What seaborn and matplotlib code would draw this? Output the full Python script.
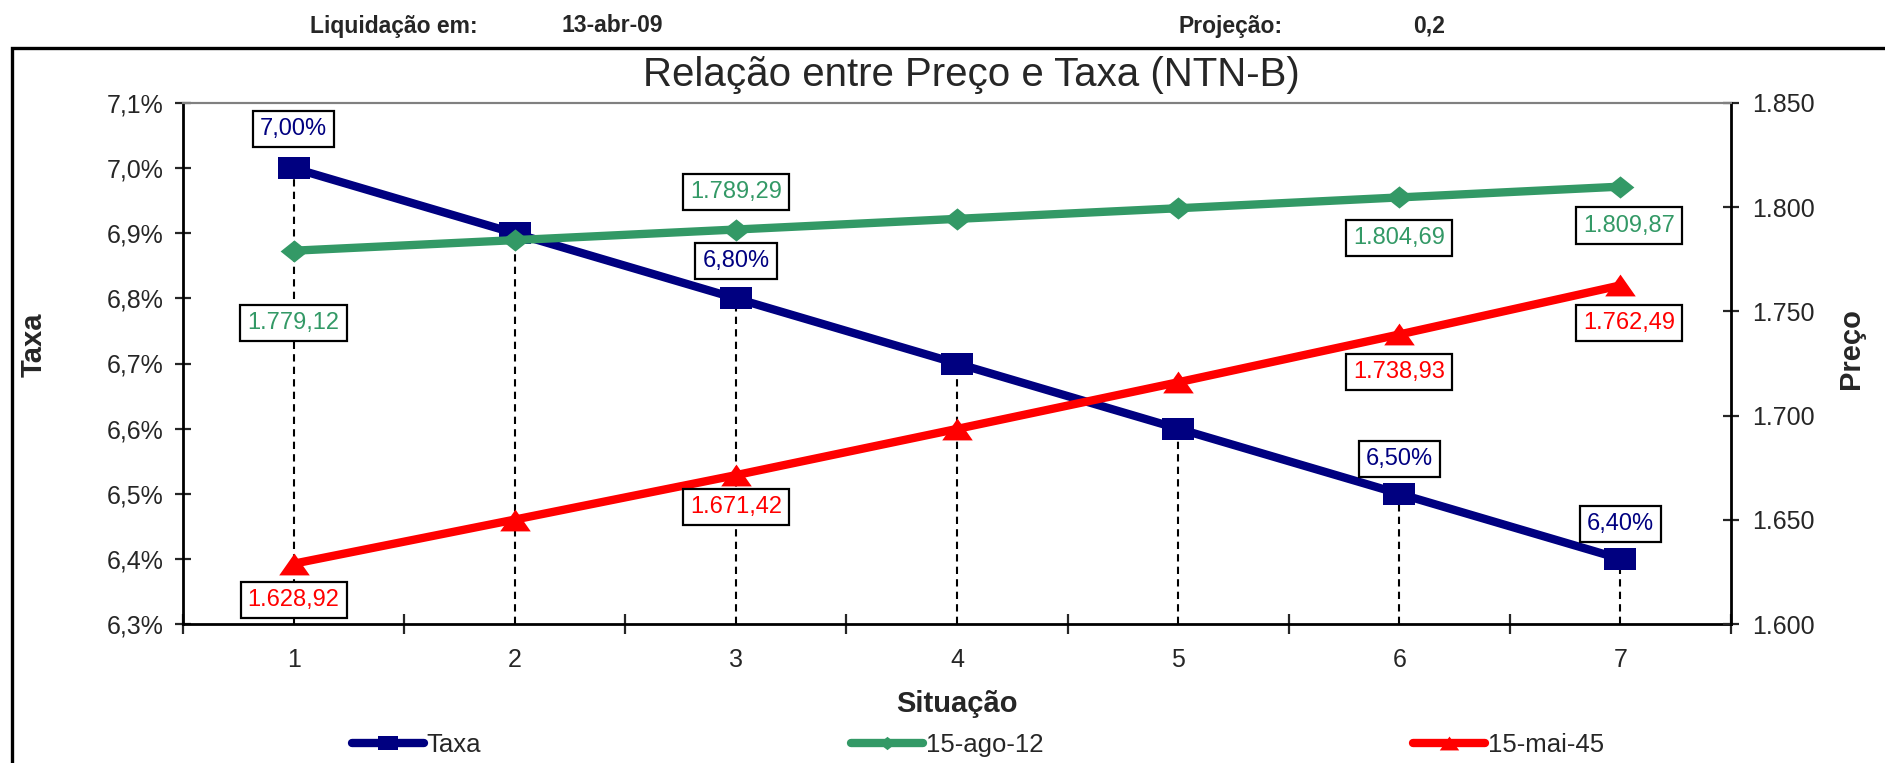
import matplotlib
matplotlib.use("Agg")
import matplotlib.pyplot as plt
import numpy as np
import pandas as pd
import seaborn as sns
from matplotlib.lines import Line2D
from matplotlib.patches import Rectangle
from matplotlib.ticker import FixedLocator, FuncFormatter

# ── data ──────────────────────────────────────────────────────────────
situacao = [1, 2, 3, 4, 5, 6, 7]
taxa = [7.00, 6.90, 6.80, 6.70, 6.60, 6.50, 6.40]
preco_ago12 = [1779.12, 1784.20, 1789.29, 1794.40, 1799.50, 1804.69, 1809.87]
preco_mai45 = [1628.92, 1650.10, 1671.42, 1693.60, 1716.00, 1738.93, 1762.49]
series_names = ["Taxa", "15-ago-12", "15-mai-45"]

taxa_ticks = [6.3, 6.4, 6.5, 6.6, 6.7, 6.8, 6.9, 7.0, 7.1]
preco_ticks = [1600, 1650, 1700, 1750, 1800, 1850]

liquidacao = "13-abr-09"
projecao = "0,2"

# points that carry a data label
taxa_labelled = [0, 2, 5, 6]
ago12_labelled = [0, 2, 5, 6]
mai45_labelled = [0, 2, 5, 6]

# ── style ─────────────────────────────────────────────────────────────
sns.set_style("white")
plt.rcParams["font.family"] = ["Liberation Sans", "DejaVu Sans"]

NAVY = "#000080"
GREEN = "#339966"
RED = "#FF0000"

rect_marker = [(-1.4, -1), (1.4, -1), (1.4, 1), (-1.4, 1), (-1.4, -1)]
diamond_marker = [(-1.25, 0), (0, 1), (1.25, 0), (0, -1), (-1.25, 0)]
triangle_marker = [(-1.4, -1), (1.4, -1), (0, 1), (-1.4, -1)]


def br_pct(v, dec):
    return f"{v:.{dec}f}".replace(".", ",") + "%"


def br_num(v, dec):
    s = f"{v:,.{dec}f}"
    return s.replace(",", "X").replace(".", ",").replace("X", ".")


df = pd.DataFrame(
    {"situacao": situacao, "taxa": taxa, "ago12": preco_ago12, "mai45": preco_mai45}
)

W, H = 1885, 763
fig = plt.figure(figsize=(W / 100, H / 100), dpi=100)
fig.patch.set_facecolor("white")
ax = fig.add_axes([183 / W, 139 / H, 1548 / W, 521 / H])
ax2 = ax.twinx()

# drop lines from the Taxa series
ax.vlines(situacao, taxa_ticks[0], taxa, colors="black",
          linestyles=(0, (3.5, 2.5)), lw=1.5, zorder=1)

sns.lineplot(data=df, x="situacao", y="taxa", ax=ax, color=NAVY, lw=6,
             marker=rect_marker, markersize=23, markeredgewidth=0, zorder=3)
sns.lineplot(data=df, x="situacao", y="ago12", ax=ax2, color=GREEN, lw=6,
             marker=diamond_marker, markersize=20, markeredgewidth=0, zorder=3)
sns.lineplot(data=df, x="situacao", y="mai45", ax=ax2, color=RED, lw=6,
             marker=triangle_marker, markersize=22, markeredgewidth=0, zorder=3)
for a in (ax, ax2):
    if a.get_legend() is not None:
        a.get_legend().remove()

# axes limits and ticks
ax.set_xlim(0.5, 7.5)
ax.set_ylim(taxa_ticks[0], taxa_ticks[-1])
ax2.set_ylim(preco_ticks[0], preco_ticks[-1])

ax.set_xticks(np.arange(0.5, len(situacao) + 1, 1))
ax.xaxis.set_minor_locator(FixedLocator(situacao))
ax.xaxis.set_minor_formatter(FuncFormatter(lambda v, p: f"{int(round(v))}"))
ax.tick_params(axis="x", which="major", direction="inout", length=14, width=1.6,
               labelbottom=False, bottom=True)
ax.tick_params(axis="x", which="minor", length=0, pad=17, labelsize=18)

ax.set_yticks(taxa_ticks)
ax.yaxis.set_major_formatter(FuncFormatter(lambda v, p: br_pct(v, 1)))
ax.tick_params(axis="y", direction="inout", length=12, width=1.6, pad=8,
               labelsize=18, left=True)
ax2.set_yticks(preco_ticks)
ax2.yaxis.set_major_formatter(FuncFormatter(lambda v, p: br_num(v, 0)))
ax2.tick_params(axis="y", direction="inout", length=12, width=1.6, pad=9,
                labelsize=18, right=True)

ax.set_xlabel("")
ax.set_ylabel("")
ax2.set_ylabel("")

for a in (ax, ax2):
    for s in a.spines.values():
        s.set_color("black")
        s.set_linewidth(2)
    a.spines["top"].set_color("#808080")
    a.spines["top"].set_linewidth(1.5)
ax.spines["right"].set_visible(False)
ax2.spines["left"].set_visible(False)
ax2.spines["bottom"].set_visible(False)

# data labels
box = dict(boxstyle="square,pad=0.3", fc="white", ec="black", lw=1.6)
taxa_off = {0: (0, 28), 2: (0, 27), 5: (0, 25), 6: (0, 25)}
ago12_off = {0: (0, -52), 2: (0, 27), 5: (0, -29), 6: (6, -28)}
mai45_off = {0: (0, -26), 2: (0, -23), 5: (0, -27), 6: (6, -27)}

for i in taxa_labelled:
    ax2.annotate(br_pct(taxa[i], 2), (situacao[i], taxa[i]), xycoords=ax.transData,
                 xytext=taxa_off[i], textcoords="offset points", ha="center",
                 va="center", color=NAVY, fontsize=17, bbox=box, zorder=6)
for i in ago12_labelled:
    ax2.annotate(br_num(preco_ago12[i], 2), (situacao[i], preco_ago12[i]),
                 xytext=ago12_off[i], textcoords="offset points", ha="center",
                 va="center", color=GREEN, fontsize=17, bbox=box, zorder=6)
for i in mai45_labelled:
    ax2.annotate(br_num(preco_mai45[i], 2), (situacao[i], preco_mai45[i]),
                 xytext=mai45_off[i], textcoords="offset points", ha="center",
                 va="center", color=RED, fontsize=17, bbox=box, zorder=6)

# titles and axis names
fig.text(971 / W, 1 - 75 / H, "Relação entre Preço e Taxa (NTN-B)",
         ha="center", va="center", fontsize=29)
fig.text(34 / W, 0.548, "Taxa", rotation=90, ha="center", va="center",
         fontsize=21, fontweight="bold")
fig.text(1851 / W, 0.543, "Preço", rotation=90, ha="center", va="center",
         fontsize=21, fontweight="bold")
fig.text(957 / W, 1 - 704 / H, "Situação", ha="center", va="center",
         fontsize=21, fontweight="bold")

# header line above the chart
for x, s in [(310, "Liquidação em:"), (561, liquidacao),
             (1178, "Projeção:"), (1413, projecao)]:
    fig.text(x / W, 1 - 26 / H, s, ha="left", va="center",
             fontsize=16.5, fontweight="bold")

# chart-area frame (runs past the right and bottom edges)
fig.add_artist(Rectangle((12 / W, -0.3), 1.5, 0.3 + 1 - 48 / H,
                         transform=fig.transFigure, fill=False,
                         ec="black", lw=2.4, clip_on=False))

# legend
handles = [
    Line2D([], [], color=NAVY, lw=6, marker=rect_marker, markersize=15, markeredgewidth=0),
    Line2D([], [], color=GREEN, lw=6, marker=diamond_marker, markersize=12, markeredgewidth=0),
    Line2D([], [], color=RED, lw=6, marker=triangle_marker, markersize=14, markeredgewidth=0),
]
fig.legend(handles, series_names, loc="center left",
           bbox_to_anchor=(352 / W, 1 - 745 / H), ncol=3, frameon=False,
           fontsize=18.5, handlelength=2.8, handletextpad=0.1,
           columnspacing=14.4, borderpad=0, borderaxespad=0)

fig.savefig("out.png", dpi=100, facecolor="white")
